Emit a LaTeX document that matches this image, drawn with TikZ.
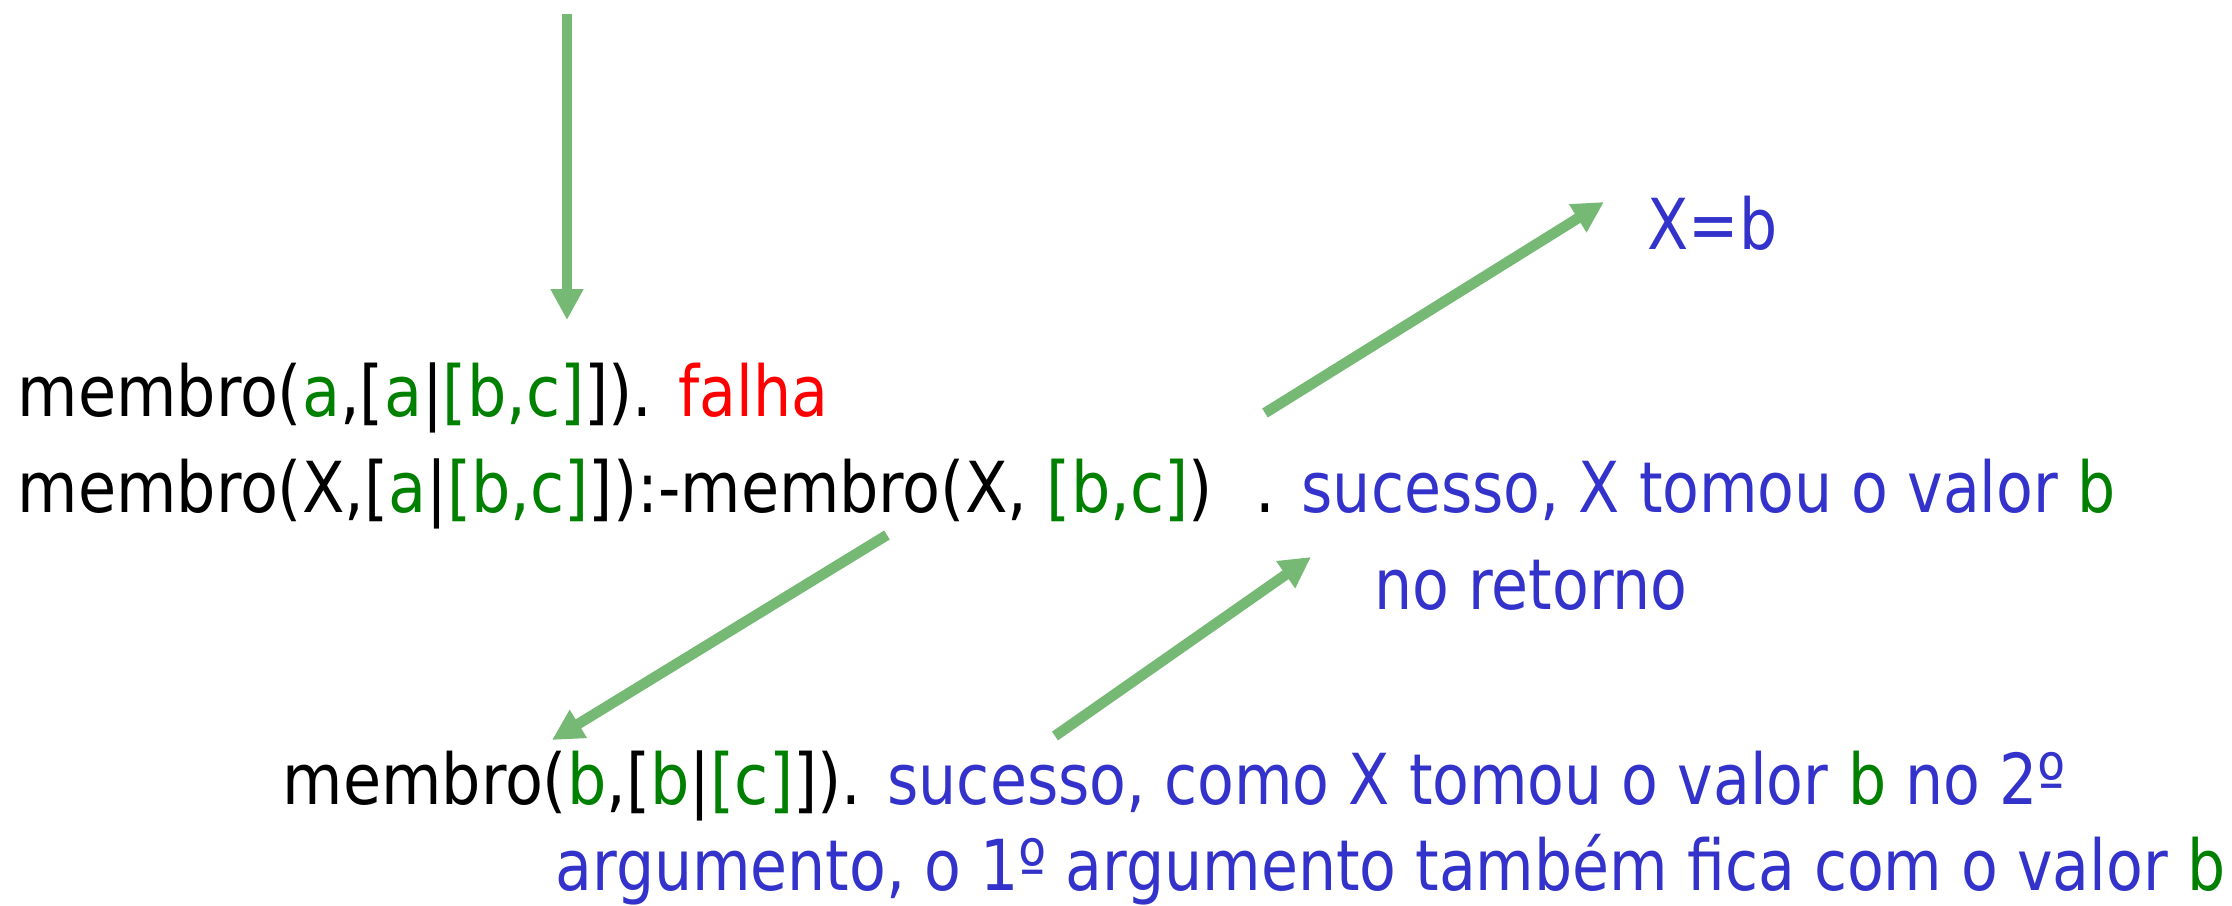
\documentclass[tikz,border=0pt]{standalone}
\usepackage{fontspec}
\setmainfont[FakeStretch=0.98]{DejaVu Sans Condensed}
\newfontfamily\bluefont[FakeStretch=0.95]{DejaVu Sans Condensed}
\usetikzlibrary{arrows.meta}
\definecolor{cgreen}{RGB}{0,128,0}
\definecolor{cred}{RGB}{255,0,0}
\definecolor{cblue}{RGB}{51,51,204}
\definecolor{carrow}{RGB}{117,185,117}
\newcommand{\gr}[1]{\textcolor{cgreen}{#1}}
\newcommand{\rd}[1]{\textcolor{cred}{\bluefont #1}}
\newcommand{\bl}[1]{\textcolor{cblue}{\bluefont #1}}
\begin{document}
\begin{tikzpicture}[x=0.01cm,y=-0.01cm,
  txt/.style={anchor=base west,inner sep=0pt,font=\fontsize{20pt}{24pt}\selectfont},
  arr/.style={draw=carrow,line width=3pt,-{Triangle[length=8.8pt,width=8.8pt]}}]
\useasboundingbox[fill=white] (0,0) rectangle (2232,906);
\node[txt] (l1) at (17,416) {membro(\gr{a},[\gr{a}|\gr{[b,c]}]). \rd{falha}};
\node[txt] (l2) at (17,512) {membro(X,[\gr{a}|\gr{[b,c]}]):-membro(X, \gr{[b,c]})};
\node[txt] (r2) at (1255,512) {. \bl{sucesso, X tomou o valor} \gr{\bluefont b}};
\node[txt,text=cblue] (ret) at (1374,609) {\bluefont no retorno};
\node[txt,text=cblue] (xb) at (1647,249) {\bluefont X=b};
\node[txt] (l3) at (282,804) {membro(\gr{b},[\gr{b}|\gr{[c]}]). \bl{sucesso, como X tomou o valor} \gr{\bluefont b} \bl{no 2º}};
\node[txt] (l4) at (555,890) {\bl{argumento, o 1º argumento também fica com o valor} \gr{\bluefont b}};
\coordinate (top) at (567,14);
\coordinate (t1) at (567,320);
\coordinate (a1s) at (1265,413);
\coordinate (a1e) at (1604,202);
\coordinate (a2s) at (887,535);
\coordinate (a2e) at (552,740);
\coordinate (a3s) at (1055,736);
\coordinate (a3e) at (1311,557);
\draw[arr] (top) -- (t1);
\draw[arr] (a1s) -- (a1e);
\draw[arr] (a2s) -- (a2e);
\draw[arr] (a3s) -- (a3e);
\end{tikzpicture}
\end{document}
